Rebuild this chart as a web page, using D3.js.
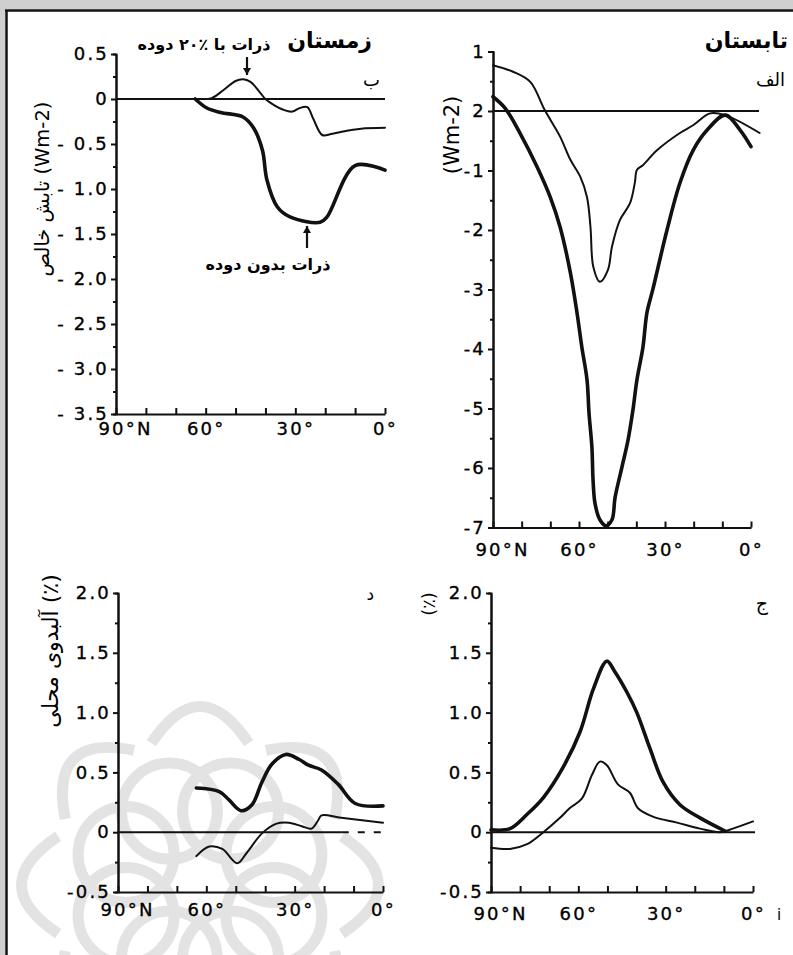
<!DOCTYPE html>
<html>
<head>
<meta charset="utf-8">
<script src="https://cdn.jsdelivr.net/npm/d3@7"></script>
<style>
body { margin: 0; background: #fff; }
svg { display: block; }
.tick text { font-family: "DejaVu Sans", sans-serif; font-size: 18px; letter-spacing: 2.2px; fill: #000; stroke: #000; stroke-width: 0.35px; }
.domain, .tick line { stroke: #111; stroke-width: 2; }
.fa { font-family: "DejaVu Sans", sans-serif; fill: #000; }
</style>
</head>
<body>
<div id="chart"></div>
<script>
// shared latitude axis
const latTicks = [90, 80, 70, 60, 50, 40, 30, 20, 10, 0]
const latTickLabels = ['90°N', '', '', '60°', '', '', '30°', '', '', '0°']

// panel ب : winter net radiation (Wm-2)
const winterTicks = [0.5, 0, -0.5, -1.0, -1.5, -2.0, -2.5, -3.0, -3.5]
const winterTickLabels = ['0.5', '0', '- 0.5', '- 1.0', '- 1.5', '- 2.0', '- 2.5', '- 3.0', '- 3.5']
const winterThickLat = [63.5, 59.6, 55, 47.5, 44, 41, 39.5, 36, 31.8, 21.7, 19.4, 10, 0]
const winterThickVal = [0, -0.1, -0.15, -0.2, -0.32, -0.57, -0.9, -1.2, -1.31, -1.37, -1.31, -0.74, -0.79]
const winterThinLat = [62, 58, 54, 50, 47.5, 45, 42, 40, 37, 34, 31, 28.5, 26, 24, 21, 18, 14, 8, 0]
const winterThinVal = [0, 0.01, 0.1, 0.2, 0.22, 0.19, 0.08, 0, -0.07, -0.12, -0.14, -0.1, -0.09, -0.22, -0.4, -0.39, -0.36, -0.33, -0.32]

// panel الف : summer net radiation (Wm-2)
const summerTicks = [1, 0, -1, -2, -3, -4, -5, -6, -7]
const summerTickLabels = ['1', '2', '-1', '-2', '-3', '-4', '-5', '-6', '-7']
const summerThickLat = [90, 85.8, 80.6, 74.6, 70, 66.6, 63, 60.7, 59, 57.2, 56.5, 55.5, 55.1, 54.4, 52.7, 50.6, 48.5, 47.4, 45, 42.9, 41.2, 39.8, 37.7, 36.3, 34.2, 29.3, 24.8, 20.2, 15.3, 9, 3.8, 0]
const summerThickVal = [0.24, 0.05, -0.37, -0.94, -1.45, -1.95, -2.72, -3.39, -3.97, -4.52, -5.08, -5.65, -6.2, -6.6, -6.87, -6.97, -6.87, -6.49, -5.98, -5.53, -5.03, -4.52, -3.97, -3.39, -2.99, -2.0, -1.21, -0.66, -0.32, -0.07, -0.32, -0.6]
const summerThinLat = [90, 83, 77, 72, 66.6, 63, 59.6, 57.2, 56, 55, 52.7, 49.9, 48.5, 45.7, 42.2, 40.5, 39.8, 37.7, 32.8, 24.8, 20.2, 14.3, 9, -3]
const summerThinVal = [0.77, 0.66, 0.49, 0.02, -0.43, -0.82, -1.1, -1.45, -1.95, -2.62, -2.87, -2.67, -2.28, -1.83, -1.55, -1.2, -0.99, -0.91, -0.66, -0.37, -0.24, -0.04, -0.07, -0.37]

// panels د and ج : albedo (%)
const albedoTicks = [2.0, 1.5, 1.0, 0.5, 0, -0.5]
const albedoTickLabels = ['2.0', '1.5', '1.0', '0.5', '0', '-0.5']
const localThickLat = [63.4, 55.6, 52.3, 48.2, 44.5, 41.1, 37.7, 33, 28.6, 25.3, 20.9, 15.2, 9.4, 0]
const localThickVal = [0.37, 0.34, 0.27, 0.18, 0.23, 0.42, 0.57, 0.65, 0.61, 0.56, 0.52, 0.4, 0.24, 0.22]
const localThinLat = [63.4, 59, 54.6, 49.5, 46.5, 41.1, 36.4, 32, 27.6, 24.3, 22, 20.9, 14.2, 0]
const localThinVal = [-0.2, -0.12, -0.14, -0.26, -0.18, -0.01, 0.07, 0.08, 0.05, 0.03, 0.1, 0.14, 0.12, 0.08]
const zonalThickLat = [90, 83.5, 77.6, 72, 65.3, 59.4, 54.8, 50.2, 47.4, 43.3, 39.9, 35.4, 30.9, 25.1, 18.2, 9.6]
const zonalThickVal = [0.02, 0.03, 0.15, 0.29, 0.54, 0.84, 1.2, 1.43, 1.34, 1.17, 1.0, 0.7, 0.42, 0.23, 0.12, 0.01]
const zonalThinLat = [90, 83.5, 77.6, 72, 66.3, 63, 58.8, 55.3, 52.6, 50.2, 46.4, 42.3, 39.5, 34.4, 26.1, 18.2, 11.3, 6.9, 0]
const zonalThinVal = [-0.13, -0.14, -0.1, 0, 0.12, 0.2, 0.28, 0.48, 0.59, 0.56, 0.4, 0.33, 0.2, 0.13, 0.08, 0.03, 0, 0.03, 0.09]

const W = 793, H = 955
const INK = '#111'

const svg = d3.select('#chart')
	.append('svg')
		.attr('width', W)
		.attr('height', H)

svg.append('rect').attr('width', W).attr('height', H).attr('fill', '#fff')

// scanned page edge
svg.append('rect').attr('x', 0).attr('y', 0).attr('width', W).attr('height', 9).attr('fill', '#cfcfcf')
svg.append('rect').attr('x', 0).attr('y', 0).attr('width', 5).attr('height', H).attr('fill', '#cfcfcf')
svg.append('line').attr('x1', 5).attr('x2', W).attr('y1', 10.5).attr('y2', 10.5).attr('stroke', INK).attr('stroke-width', 2.5)
svg.append('line').attr('x1', 6.5).attr('x2', 6.5).attr('y1', 10).attr('y2', H).attr('stroke', INK).attr('stroke-width', 2.5)

// faint watermark rosette behind the lower-left panel
const wm = svg.append('g')
	.attr('transform', 'translate(200, 885)')
	.attr('fill', 'none')
	.attr('stroke', '#e3e3e3')
	.attr('stroke-width', 11)
d3.range(8).forEach(i => {
	const a = i * Math.PI / 4 + Math.PI / 8
	wm.append('circle').attr('cx', 80 * Math.cos(a)).attr('cy', 80 * Math.sin(a)).attr('r', 48)
})
d3.range(8).forEach(i => {
	const a = i * Math.PI / 4
	const r0 = 150, r1 = 215
	wm.append('path')
		.attr('d', `M${r0 * Math.cos(a - 0.33)},${r0 * Math.sin(a - 0.33)}Q${r1 * Math.cos(a)},${r1 * Math.sin(a)} ${r0 * Math.cos(a + 0.33)},${r0 * Math.sin(a + 0.33)}`)
})

const line = d3.line().curve(d3.curveCatmullRom.alpha(0.5))

function drawPanel(p) {
	const x = d3.scaleLinear().domain([90, 0]).range(p.xRange)
	const y = d3.scaleLinear().domain([p.yTicks[0], p.yTicks[p.yTicks.length - 1]]).range(p.yRange)
	const g = svg.append('g')

	// minor y ticks
	g.append('g')
		.attr('transform', `translate(${p.xRange[0]}, 0)`)
		.call(d3.axisLeft(y).tickValues(p.yMinor).tickSize(3).tickFormat(''))

	g.append('g')
		.attr('transform', `translate(${p.xRange[0]}, 0)`)
		.call(d3.axisLeft(y)
			.tickValues(p.yTicks)
			.tickSizeInner(5)
			.tickSizeOuter(0)
			.tickPadding(2)
			.tickFormat((d, i) => p.yLabels[i]))

	const xAxis = g.append('g')
		.attr('transform', `translate(0, ${p.yRange[1]})`)
		.call(d3.axisBottom(x)
			.tickValues(latTicks)
			.tickSizeInner(-6)
			.tickSizeOuter(0)
			.tickPadding(p.xPad)
			.tickFormat((d, i) => latTickLabels[i]))
	// the "N" of 90°N hangs to the right of the tick
	xAxis.selectAll('.tick text').filter(d => d === 90).attr('dx', 9)

	// zero reference line
	g.append('line')
		.attr('x1', x(90)).attr('x2', x(p.zeroEnd))
		.attr('y1', y(0)).attr('y2', y(0))
		.attr('stroke', INK).attr('stroke-width', 2)

	if (p.zeroDash != null) {
		g.append('line')
			.attr('x1', x(p.zeroEnd)).attr('x2', x(p.zeroDash))
			.attr('y1', y(0)).attr('y2', y(0))
			.attr('stroke', INK).attr('stroke-width', 2)
			.attr('stroke-dasharray', '7,9')
	}

	p.series.forEach(s => {
		g.append('path')
			.datum(s.lat.map((d, i) => [x(d), y(s.val[i])]))
			.attr('d', line)
			.attr('fill', 'none')
			.attr('stroke', INK)
			.attr('stroke-width', s.thick ? 3.6 : 2)
			.attr('stroke-linejoin', 'round')
			.attr('stroke-linecap', 'round')
	})
	return { x, y }
}

drawPanel({
	xRange: [116, 385], yRange: [54, 414], xPad: 8,
	yTicks: winterTicks, yLabels: winterTickLabels,
	yMinor: d3.range(-3.25, 0.5, 0.5),
	zeroEnd: 0,
	series: [
		{ lat: winterThickLat, val: winterThickVal, thick: true },
		{ lat: winterThinLat, val: winterThinVal, thick: false }
	]
})

drawPanel({
	xRange: [493, 751], yRange: [51.5, 527.5], xPad: 16,
	yTicks: summerTicks, yLabels: summerTickLabels,
	yMinor: d3.range(-6.5, 1, 1),
	zeroEnd: -2.8,
	series: [
		{ lat: summerThickLat, val: summerThickVal, thick: true },
		{ lat: summerThinLat, val: summerThinVal, thick: false }
	]
})

drawPanel({
	xRange: [118, 383], yRange: [593, 892], xPad: 11,
	yTicks: albedoTicks, yLabels: albedoTickLabels,
	yMinor: d3.range(-0.25, 2, 0.5),
	zeroEnd: 14, zeroDash: 0,
	series: [
		{ lat: localThickLat, val: localThickVal, thick: true },
		{ lat: localThinLat, val: localThinVal, thick: false }
	]
})

drawPanel({
	xRange: [491, 753], yRange: [593, 892], xPad: 15,
	yTicks: albedoTicks, yLabels: albedoTickLabels,
	yMinor: d3.range(-0.25, 2, 0.5),
	zeroEnd: -0.7,
	series: [
		{ lat: zonalThickLat, val: zonalThickVal, thick: true },
		{ lat: zonalThinLat, val: zonalThinVal, thick: false }
	]
})

// texts
function label(txt, xPos, yPos, size, opts = {}) {
	const t = svg.append('text')
		.attr('class', 'fa')
		.attr('x', xPos)
		.attr('y', yPos)
		.attr('font-size', size)
		.attr('text-anchor', opts.anchor || 'middle')
		.attr('font-weight', opts.bold ? 'bold' : 'normal')
		.text(txt)
	if (opts.rotate) t.attr('transform', `rotate(-90, ${xPos}, ${yPos})`)
	if (opts.rtl) t.attr('direction', 'rtl')
	return t
}

label('زمستان', 372, 48, 22, { anchor: 'end', bold: true })
label('تابستان', 788, 48, 22, { anchor: 'end', bold: true })
label('ب', 380, 86, 18, { anchor: 'end' })
label('الف', 785, 86, 18, { anchor: 'end' })
label('د', 374, 600, 17, { anchor: 'end' })
label('ج', 768, 610, 19, { anchor: 'end' })
label('i', 779, 920, 15, { anchor: 'middle' })

label('ذرات با ٪۲۰ دوده', 204, 50, 16, { rtl: true, bold: true })
label('ذرات بدون دوده', 268, 270, 16, { rtl: true, bold: true })

label('تابش خالص (Wm-2)', 49, 189, 19.5, { rotate: true })
label('(Wm-2)', 459, 135, 21, { rotate: true })
label('آلبدوی محلی (٪)', 58, 651, 22, { rotate: true })
label('(٪)', 435, 604, 18, { rotate: true })

// arrows for the winter annotations
function arrow(x0, y0, x1, y1) {
	svg.append('line')
		.attr('x1', x0).attr('y1', y0).attr('x2', x1).attr('y2', y1)
		.attr('stroke', INK).attr('stroke-width', 2.2)
	const dir = Math.sign(y1 - y0)
	svg.append('path')
		.attr('d', `M${x1 - 4},${y1 - dir * 7}L${x1},${y1}L${x1 + 4},${y1 - dir * 7}Z`)
		.attr('fill', INK)
}
arrow(247, 57, 247, 75)
arrow(307, 248, 307, 226)
</script>
</body>
</html>
